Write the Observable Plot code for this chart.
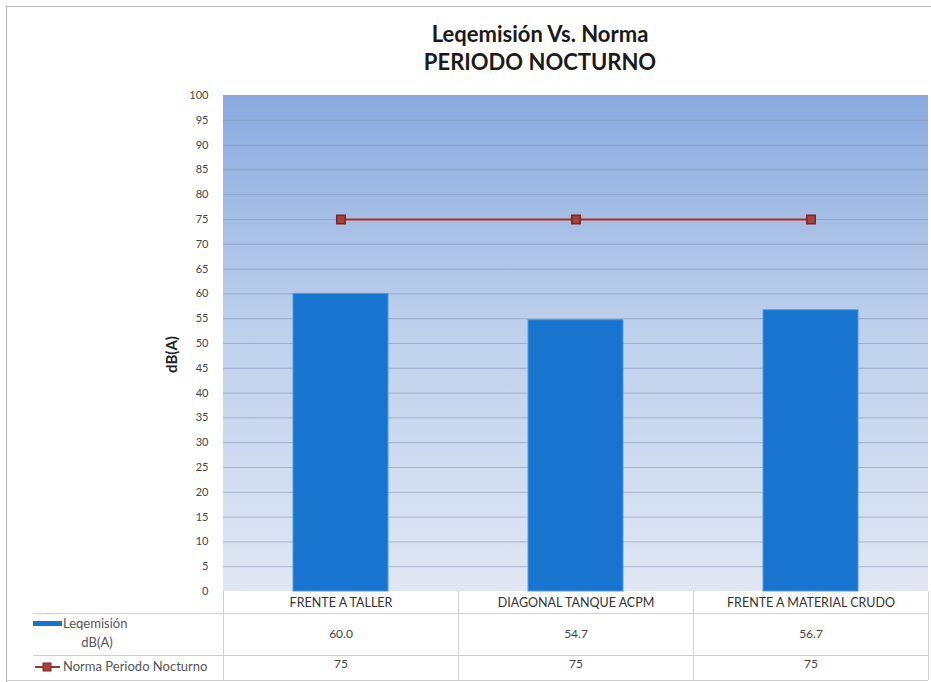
<!DOCTYPE html>
<html><head><meta charset="utf-8">
<script src="https://cdn.jsdelivr.net/npm/d3@7"></script>
<script src="https://cdn.jsdelivr.net/npm/@observablehq/plot@0.6"></script>
<style>
html,body{margin:0;padding:0;background:#fff;overflow:hidden;}
#wrap{position:relative;width:931px;height:682px;font-family:Lato,"Open Sans",sans-serif;}
#title{height:80px;box-sizing:border-box;padding-top:20px;padding-left:149px;text-align:center;font-weight:bold;font-size:22px;line-height:28px;color:#1a1a1a;}
#chart svg{display:block;}
#border{position:absolute;left:6px;top:6px;width:924px;height:675px;border-left:1px solid #b5b5b5;border-top:1px solid #b5b5b5;pointer-events:none;}
</style></head><body>
<div id="wrap">
  <div id="title"><div id="t1"></div><div id="t2"></div></div>
  <div id="chart"></div>
  <div id="border"></div>
</div>
<script>
const titleLines = ["Leqemisión Vs. Norma", "PERIODO NOCTURNO"];
const yLabel = "dB(A)";
const categories = ["FRENTE A TALLER", "DIAGONAL TANQUE ACPM", "FRENTE A MATERIAL CRUDO"];
const leqValues = [60.0, 54.7, 56.7];
const normaValues = [75, 75, 75];
const yTicks = [0, 5, 10, 15, 20, 25, 30, 35, 40, 45, 50, 55, 60, 65, 70, 75, 80, 85, 90, 95, 100];
const seriesNames = ["Leqemisión dB(A)", "Norma Periodo Nocturno"];

document.getElementById("t1").textContent = titleLines[0];
document.getElementById("t2").textContent = titleLines[1];

const barColor = "#1874cf";
const lineColor = "#8b3a3c";
const markerFill = "#a8403c";
const gridColor = "#7d8cab";
const tableLine = "#cfcfcf";

const data = categories.map((c, i) => ({cat: c, leq: leqValues[i], norma: normaValues[i]}));

const background = (index, scales, values, dims) => {
  const g = d3.create("svg:g");
  const lg = g.append("defs").append("linearGradient")
    .attr("id", "bgGrad").attr("x1", 0).attr("y1", 0).attr("x2", 0).attr("y2", 1);
  lg.append("stop").attr("offset", "0%").attr("stop-color", "#89aadf");
  lg.append("stop").attr("offset", "45%").attr("stop-color", "#bccfec");
  lg.append("stop").attr("offset", "100%").attr("stop-color", "#e0e7f3");
  g.append("rect")
    .attr("x", dims.marginLeft).attr("y", dims.marginTop)
    .attr("width", dims.width - dims.marginLeft - dims.marginRight)
    .attr("height", dims.height - dims.marginTop - dims.marginBottom)
    .attr("fill", "url(#bgGrad)");
  return g.node();
};

const table = (index, scales, values, dims) => {
  const g = d3.create("svg:g").attr("text-anchor", "start");
  const left = dims.marginLeft, right = dims.width - dims.marginRight;
  const bottom = dims.height - dims.marginBottom;
  const bw = (right - left) / categories.length;
  const r1 = bottom + 22, r2 = bottom + 64, r3 = bottom + 89;
  [[33, r1], [33, r2], [7, r3]].forEach(([x0, y]) => {
    g.append("line").attr("x1", x0).attr("x2", right).attr("y1", y + 0.5).attr("y2", y + 0.5)
      .attr("stroke", tableLine);
  });
  for (let i = 0; i <= categories.length; i++) {
    const x = Math.round(left + i * bw) + 0.5;
    g.append("line").attr("x1", x).attr("x2", x).attr("y1", bottom).attr("y2", r3)
      .attr("stroke", tableLine);
  }
  const [n1a, n1b] = seriesNames[0].split(" ");
  const fs = 13;
  g.append("rect").attr("x", 33).attr("y", bottom + 30).attr("width", 29).attr("height", 5).attr("fill", barColor);
  g.append("text").attr("x", 63).attr("y", bottom + 33).attr("dy", "0.32em").attr("text-anchor", "start")
    .attr("font-size", fs).attr("fill", "#555").text(n1a);
  g.append("text").attr("x", 97).attr("y", bottom + 52).attr("dy", "0.32em").attr("text-anchor", "middle")
    .attr("font-size", fs).attr("fill", "#555").text(n1b);
  g.append("line").attr("x1", 35).attr("x2", 60).attr("y1", bottom + 76).attr("y2", bottom + 76)
    .attr("stroke", lineColor).attr("stroke-width", 2);
  g.append("rect").attr("x", 43).attr("y", bottom + 72).attr("width", 8).attr("height", 8)
    .attr("fill", markerFill).attr("stroke", "#7a2624");
  g.append("text").attr("x", 63).attr("y", bottom + 76).attr("dy", "0.32em").attr("text-anchor", "start")
    .attr("font-size", fs).attr("fill", "#555").text(seriesNames[1]);
  return g.node();
};

const plot = Plot.plot({
  width: 931, height: 602,
  marginLeft: 223, marginRight: 3, marginTop: 15, marginBottom: 91,
  style: {fontFamily: "Lato, 'Open Sans', sans-serif", fontSize: "11px", color: "#444", background: "transparent"},
  x: {domain: categories, padding: 0, axis: null},
  y: {domain: [0, 100], axis: null},
  marks: [
    background,
    Plot.ruleY(yTicks.filter(t => t > 0 && t < 100), {stroke: gridColor, strokeOpacity: 0.5}),
    Plot.axisY({ticks: yTicks, tickSize: 0, tickPadding: 15, fontSize: 11, label: null}),
    Plot.axisX({tickSize: 0, tickPadding: 7, label: null, fontSize: 12.5, fill: "#333"}),
    Plot.barY(data, {x: "cat", y: "leq", fill: barColor, stroke: "#4f9be3", strokeWidth: 1, insetLeft: 70, insetRight: 70}),
    Plot.lineY(data, {x: "cat", y: "norma", stroke: "#f0a8a8", strokeWidth: 6, strokeOpacity: 0.35}),
    Plot.lineY(data, {x: "cat", y: "norma", stroke: lineColor, strokeWidth: 2.2}),
    Plot.dot(data, {x: "cat", y: "norma", symbol: "square", r: 4.8, fill: markerFill, stroke: "#7a2624"}),
    Plot.text([yLabel], {frameAnchor: "left", textAnchor: "middle", dx: -51, dy: 11, rotate: -90, fontWeight: "bold", fontSize: 15, fill: "#222"}),
    Plot.text(data, {x: "cat", text: d => d.leq.toFixed(1), frameAnchor: "bottom", dy: 46, fontSize: 12, fill: "#444"}),
    Plot.text(data, {x: "cat", text: d => String(d.norma), frameAnchor: "bottom", dy: 76, fontSize: 12, fill: "#444"}),
    table
  ]
});
document.getElementById("chart").appendChild(plot);
</script>
</body></html>
